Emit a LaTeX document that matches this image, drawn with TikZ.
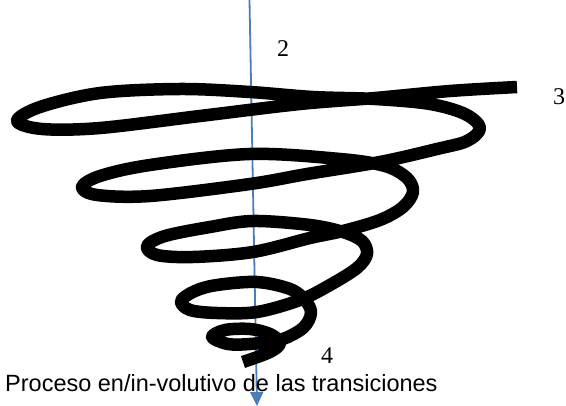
\documentclass[tikz,border=0pt]{standalone}
\usepackage{fontspec}
\setmainfont{Liberation Serif}
\newfontfamily\arialfont{Liberation Sans}
\usepackage{tikz}
\definecolor{pfeilblau}{RGB}{74,126,187}
\usetikzlibrary{arrows.meta}

\begin{document}
\begin{tikzpicture}[x=1pt, y=-1pt,
			>={Triangle[length=14pt,width=13pt]},   %Pfeilspitzen
			spirale/.style={line width=12.5pt, line join=round},
			achse/.style={pfeilblau, line width=1.8pt},
			ziffer/.style={font=\fontsize{24}{28}\selectfont, inner sep=0pt},
			unterschrift/.style={font=\arialfont\fontsize{23.5}{28}\selectfont, inner sep=0pt}]
			%Bildbereich
			\useasboundingbox (0,0) rectangle (566,406);
			% Pfeil zeichnen
			\coordinate (oben) at (249.5,0);
			\coordinate (unten) at (257,406);
			\draw[->,achse] (oben) -- (unten);
			% Spirale zeichnen
			\draw[spirale] plot[smooth, tension=0.55] coordinates {
				(517,87) (450,91) (375,98) (300,104) (200,116) (100,128) (42,129) (17,121)
				(40,107) (100,93) (180,89) (250,92) (313,97) (375,99) (430,104) (465,114)
				(480,128) (467,141) (437,149) (380,162) (307,174) (250,184) (150,196) (97,195)
				(82,187) (100,176) (150,165) (250,154) (340,159) (385,166) (407,178) (413,192)
				(403,207) (380,220) (343,231) (310,238) (253,252) (193,257) (157,255) (147,246)
				(165,236) (210,227) (253,221) (310,225) (343,232) (362,241) (367,254) (357,268)
				(330,285) (300,300) (257,312) (217,313) (190,310) (181,301) (195,291) (217,285)
				(257,282) (290,289) (305,300) (311,313) (303,328) (280,340) (250,344) (228,344)
				(212,337) (225,330) (250,329) (270,334) (280,343) (270,352) (243,362)};
			% Beschriftung
			\node[ziffer] (zwei) at (283,49) {2};
			\node[ziffer] (drei) at (559,97) {3};
			\node[ziffer] (vier) at (327,356) {4};
			\node[unterschrift, anchor=base west] (titel) at (5,392) {Proceso en/in-volutivo de las transiciones};
		\end{tikzpicture}
\end{document}
